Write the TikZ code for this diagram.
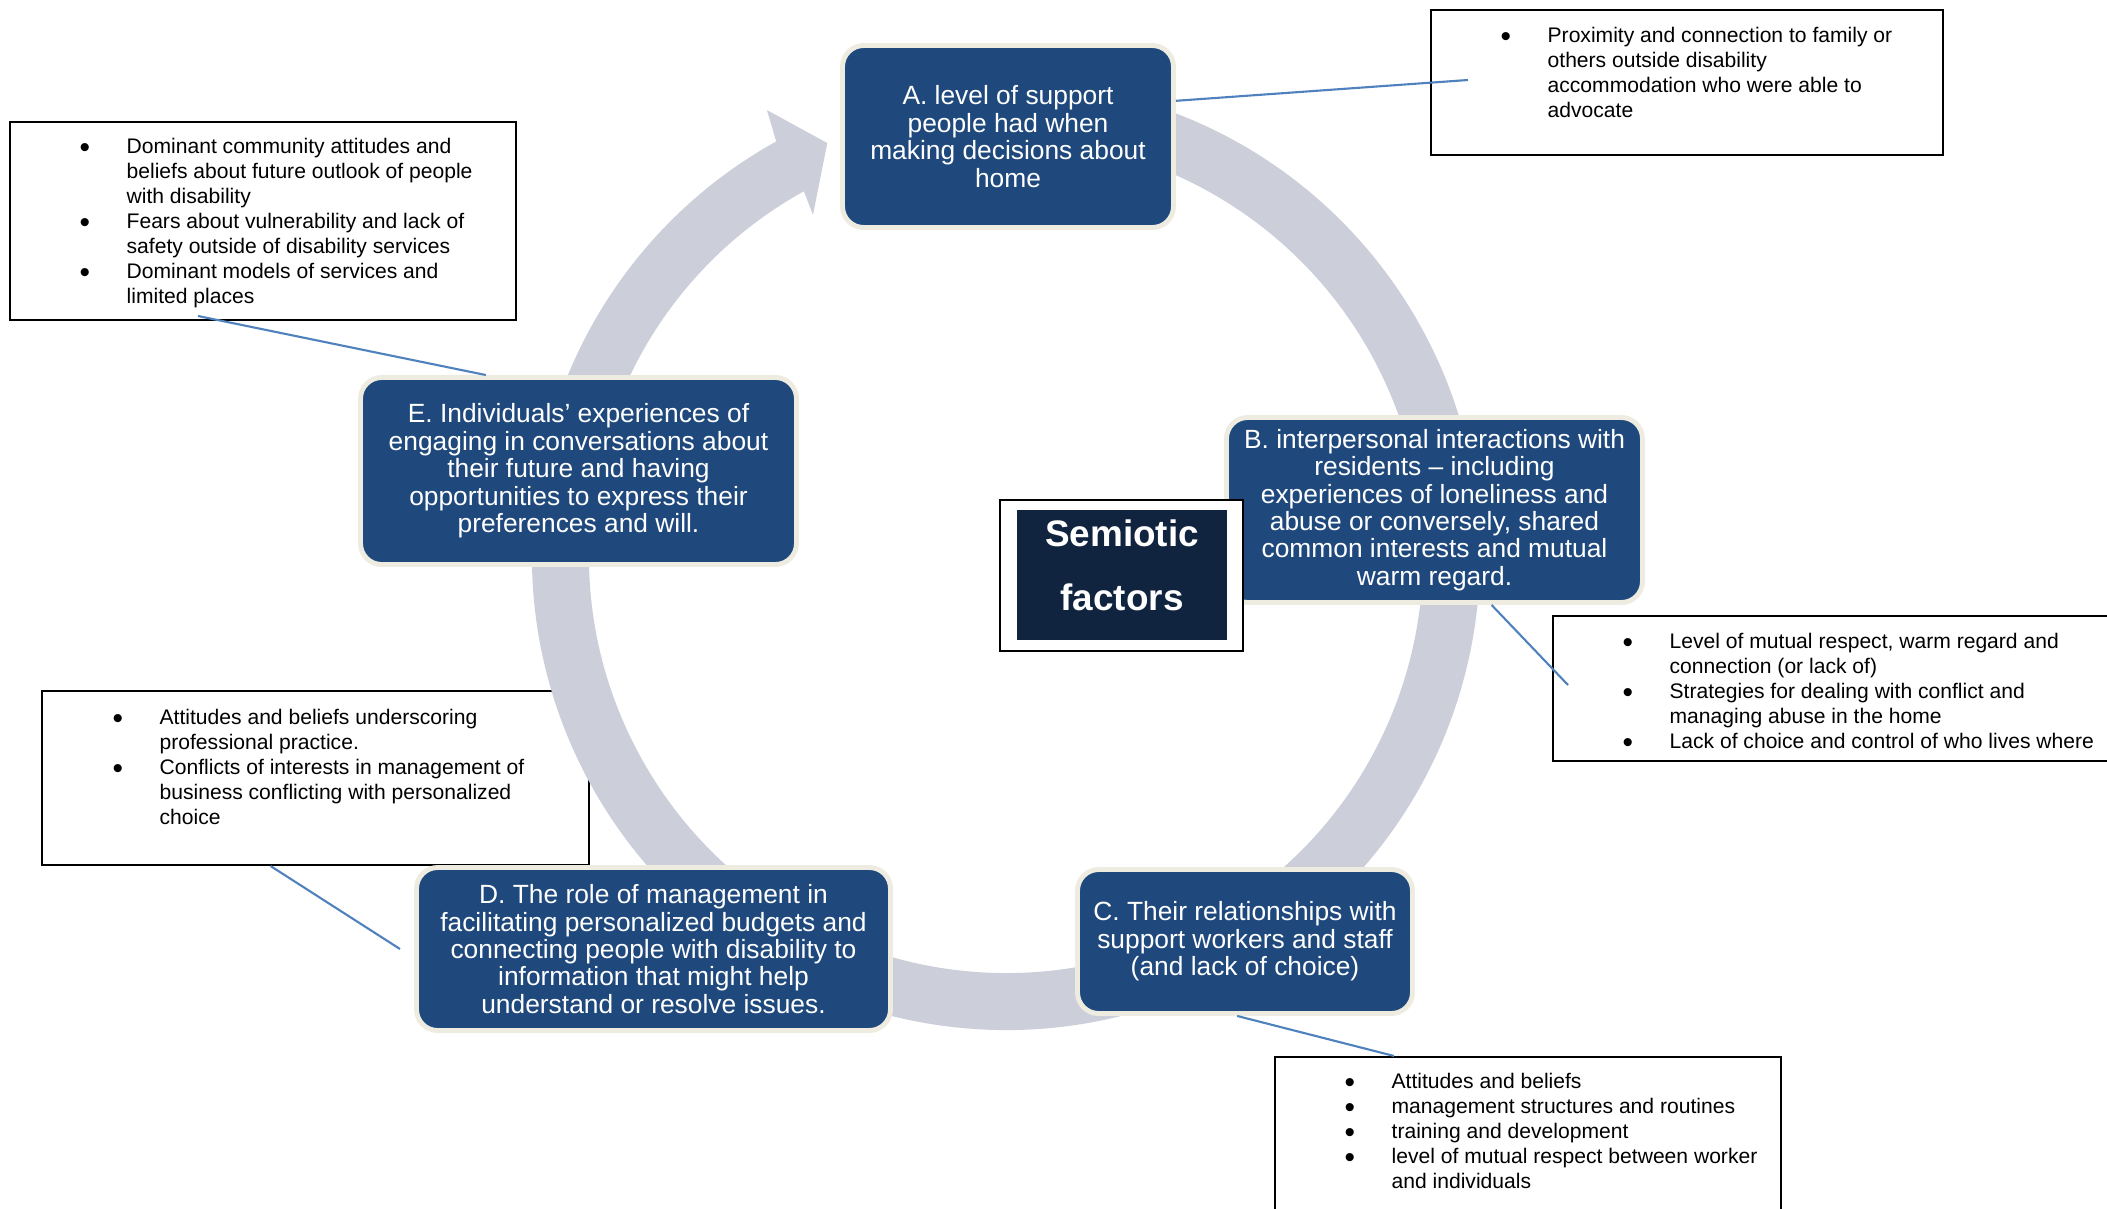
\documentclass[tikz,border=0pt]{standalone}
\usepackage{fontspec}
\setmainfont{Liberation Sans}
\usepackage{tikz}
\usetikzlibrary{positioning,calc}
\definecolor{facblue}{RGB}{31,73,125}
\definecolor{facrim}{RGB}{238,236,225}
\definecolor{ringgray}{RGB}{204,207,218}
\definecolor{semnavy}{RGB}{16,36,64}
\definecolor{linkblue}{RGB}{79,129,189}
\newcommand{\blt}{\raisebox{-1.1pt}{\fontsize{8.5}{0}\selectfont\textbullet}}

\begin{document}
\begin{tikzpicture}[
    factor/.style={draw=facrim,line width=1.4pt,fill=facblue,rounded corners=6pt,
                   text=white,align=center,inner sep=0pt,
                   font=\fontsize{7.5}{7.8}\selectfont},
    note/.style={draw=black,line width=0.6pt,fill=white,inner sep=0pt},
    notetext/.style={anchor=base west,inner sep=0pt,font=\fontsize{6}{7.1}\selectfont},
    link/.style={linkblue,line width=0.6pt}
  ]
    \useasboundingbox (0,0) rectangle (21.07,12.08);
    \clip (0,0) rectangle (21.07,12.08);

    % callout frames
    \node[note,minimum width=5.12cm,minimum height=1.45cm] (cA) at (16.87,11.255) {};
    \node[note,minimum width=5.61cm,minimum height=1.45cm] (cB) at (18.335,5.195) {};
    \node[note,minimum width=5.06cm,minimum height=1.72cm] (cC) at (15.28,0.65) {};
    \node[note,minimum width=5.47cm,minimum height=1.74cm] (cD) at (3.155,4.30) {};
    \node[note,minimum width=5.06cm,minimum height=1.98cm] (cE) at (2.63,9.87) {};

    % circular arrow behind the factors
    \coordinate (ring) at (10.06,6.52);
    \fill[ringgray] ([shift={(80:4.74)}]ring) arc[start angle=80,end angle=-241,radius=4.74]
      -- ([shift={(118.2:5.06)}]ring) -- ([shift={(113.4:4.50)}]ring)
      -- ([shift={(119.5:3.92)}]ring)
      -- ([shift={(-241:4.17)}]ring) arc[start angle=-241,end angle=80,radius=4.17] -- cycle;

    \node[notetext] (tA) at ([shift={(0.70,-0.34)}]cA.north west)
      {\begin{tabular}[t]{@{}p{0.47cm}@{}l@{}}
        \blt & Proximity and connection to family or\\
             & others outside disability\\
             & accommodation who were able to\\
             & advocate
      \end{tabular}};
    \node[notetext] (tB) at ([shift={(0.70,-0.34)}]cB.north west)
      {\begin{tabular}[t]{@{}p{0.47cm}@{}l@{}}
        \blt & Level of mutual respect, warm regard and\\
             & connection (or lack of)\\
        \blt & Strategies for dealing with conflict and\\
             & managing abuse in the home\\
        \blt & Lack of choice and control of who lives where
      \end{tabular}};
    \node[notetext] (tC) at ([shift={(0.70,-0.33)}]cC.north west)
      {\begin{tabular}[t]{@{}p{0.47cm}@{}l@{}}
        \blt & Attitudes and beliefs\\
        \blt & management structures and routines\\
        \blt & training and development\\
        \blt & level of mutual respect between worker\\
             & and individuals
      \end{tabular}};
    \node[notetext] (tD) at ([shift={(0.71,-0.35)}]cD.north west)
      {\begin{tabular}[t]{@{}p{0.47cm}@{}l@{}}
        \blt & Attitudes and beliefs underscoring\\
             & professional practice.\\
        \blt & Conflicts of interests in management of\\
             & business conflicting with personalized\\
             & choice
      \end{tabular}};
    \node[notetext] (tE) at ([shift={(0.70,-0.33)}]cE.north west)
      {\begin{tabular}[t]{@{}p{0.47cm}@{}l@{}}
        \blt & Dominant community attitudes and\\
             & beliefs about future outlook of people\\
             & with disability\\
        \blt & Fears about vulnerability and lack of\\
             & safety outside of disability services\\
        \blt & Dominant models of services and\\
             & limited places
      \end{tabular}};

    % the five factors
    \node[factor,minimum width=3.31cm,minimum height=1.82cm] (boxA) at (10.08,10.715)
      {A. level of support\\people had when\\making decisions about\\home};
    \node[factor,minimum width=4.16cm,minimum height=1.85cm] (boxB) at (14.345,6.98)
      {B. interpersonal interactions with\\residents -- including\\experiences of loneliness and\\abuse or conversely, shared\\common interests and mutual\\warm regard.};
    \node[factor,minimum width=3.35cm,minimum height=1.44cm] (boxC) at (12.45,2.665)
      {C. Their relationships with\\support workers and staff\\(and lack of choice)};
    \node[factor,minimum width=4.74cm,minimum height=1.63cm] (boxD) at (6.535,2.59)
      {D. The role of management in\\facilitating personalized budgets and\\connecting people with disability to\\information that might help\\understand or resolve issues.};
    \node[factor,minimum width=4.36cm,minimum height=1.87cm] (boxE) at (5.785,7.37)
      {E. Individuals’ experiences of\\engaging in conversations about\\their future and having\\opportunities to express their\\preferences and will.};

    % connectors to the callouts
    \coordinate (endA) at (14.68,11.28);
    \coordinate (endB) at (15.68,5.23);
    \coordinate (endD) at (4.00,2.59);
    \coordinate (endE) at (1.98,8.92);
    \draw[link] (boxA.12) -- (endA);
    \draw[link] (boxB.-59) -- (endB);
    \draw[link] (boxC.-96) -- (cC.147);
    \draw[link] (cD.243) -- (endD);
    \draw[link] (endE) -- (boxE.134);

    % centre label
    \node[draw=black,line width=0.6pt,fill=white,minimum width=2.43cm,minimum height=1.51cm]
      (semiframe) at (11.215,6.325) {};
    \node[fill=semnavy,inner sep=0pt,minimum width=2.10cm,minimum height=1.30cm]
      (semio) at (11.22,6.33) {};
    \node[text=white,align=center,inner sep=0pt,font=\fontsize{10.5}{18.2}\selectfont\bfseries]
      (semtext) at ([yshift=0.10cm]semio.center) {Semiotic\\factors};
  \end{tikzpicture}
\end{document}
